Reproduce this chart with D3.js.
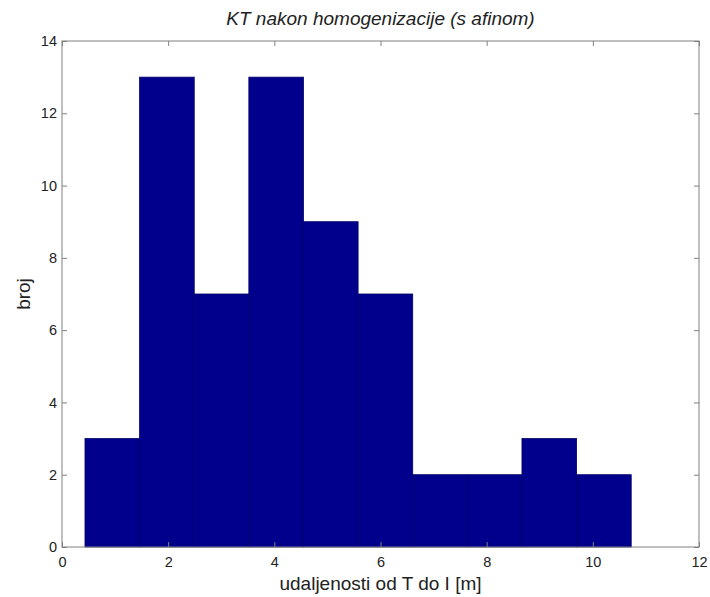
<!DOCTYPE html>
<html>
<head>
<meta charset="utf-8">
<script src="https://cdn.jsdelivr.net/npm/d3@7"></script>
<style>
  body { margin: 0; background: #fff; }
  text { font-family: "Liberation Sans", Arial, sans-serif; fill: #222; }
</style>
</head>
<body>
<div id="chart"></div>
<script>
// histogram data: bin edges and counts
var binEdges = [0.433, 1.462, 2.491, 3.520, 4.549, 5.578, 6.607, 7.636, 8.665, 9.694, 10.723];
var counts = [3, 13, 7, 13, 9, 7, 2, 2, 3, 2];
var xTicks = [0, 2, 4, 6, 8, 10, 12];
var yTicks = [0, 2, 4, 6, 8, 10, 12, 14];
var title = "KT nakon homogenizacije (s afinom)";
var xTitle = "udaljenosti od T do I [m]";
var yTitle = "broj";

var W = 710, H = 597;
var margin = {top: 41, right: 11, bottom: 50, left: 62};
var width = W - margin.left - margin.right;
var height = H - margin.top - margin.bottom;

var bins = counts.map(function(c, i) {
    return {x0: binEdges[i], x1: binEdges[i + 1], n: c};
});

var x = d3.scaleLinear().domain([0, 12]).range([0, width]);
var y = d3.scaleLinear().domain([0, 14]).range([height, 0]);

var svg = d3.select("#chart").append("svg")
    .attr("width", W)
    .attr("height", H)
    .append("g")
    .attr("transform", "translate(" + margin.left + "," + margin.top + ")");

svg.selectAll("rect.bar")
    .data(bins)
    .enter().append("rect")
    .attr("class", "bar")
    .attr("x", d => x(d.x0))
    .attr("y", d => y(d.n))
    .attr("width", d => x(d.x1) - x(d.x0))
    .attr("height", d => y(0) - y(d.n))
    .attr("fill", "#00008c")
    .attr("stroke", "#000066")
    .attr("stroke-width", 0.8);

// box
svg.append("rect")
    .attr("width", width)
    .attr("height", height)
    .attr("fill", "none")
    .attr("stroke", "#808080")
    .attr("stroke-width", 1);

var tickLen = 5;

// bottom axis, ticks inward
var xb = svg.append("g").attr("transform", "translate(0," + height + ")")
    .call(d3.axisBottom(x).tickValues(xTicks).tickSize(-tickLen).tickPadding(10).tickFormat(d3.format("d")));
// top ticks
var xt = svg.append("g")
    .call(d3.axisTop(x).tickValues(xTicks).tickSize(-tickLen).tickFormat(""));
// left axis
var yl = svg.append("g")
    .call(d3.axisLeft(y).tickValues(yTicks).tickSize(-tickLen).tickPadding(5).tickFormat(d3.format("d")));
// right ticks
var yr = svg.append("g").attr("transform", "translate(" + width + ",0)")
    .call(d3.axisRight(y).tickValues(yTicks).tickSize(-tickLen).tickFormat(""));

[xb, xt, yl, yr].forEach(function(g) {
    g.select(".domain").remove();
    g.selectAll("line").attr("stroke", "#808080");
    g.selectAll("text").style("font-size", "14.5px").attr("fill", "#222");
});

svg.append("text")
    .attr("x", width / 2)
    .attr("y", -16)
    .style("text-anchor", "middle")
    .style("font-size", "19px")
    .style("font-style", "italic")
    .text(title);

svg.append("text")
    .attr("x", width / 2)
    .attr("y", height + 43)
    .style("text-anchor", "middle")
    .style("font-size", "19px")
    .text(xTitle);

svg.append("text")
    .attr("transform", "rotate(-90)")
    .attr("x", -height / 2)
    .attr("y", -32)
    .style("text-anchor", "middle")
    .style("font-size", "19px")
    .text(yTitle);
</script>
</body>
</html>
